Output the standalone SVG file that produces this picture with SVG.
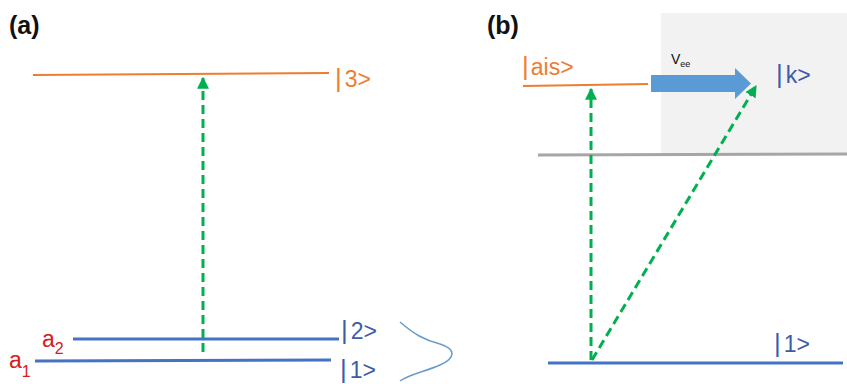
<svg xmlns="http://www.w3.org/2000/svg" width="847" height="384" viewBox="0 0 847 384">
<style>
.lbl{font-family:"Liberation Sans",Arial,sans-serif;font-size:23px}
.bar{font-size:26px}
.panel{font-family:"Liberation Sans",Arial,sans-serif;font-size:25px;font-weight:bold;fill:#111}
.orange{fill:#ED7D31}
.blue{fill:#3C5CA8}
.red{fill:#D42020}
.lvO{stroke:#ED7D31;stroke-width:2;fill:none}
.lvB{stroke:#4472C4;stroke-width:3;fill:none}
.dash{stroke:#00B050;stroke-width:3;stroke-dasharray:9 5;fill:none}
</style>
<defs>
<marker id="gh" viewBox="0 0 10 10" refX="9" refY="5" markerWidth="4" markerHeight="4" orient="auto" markerUnits="strokeWidth">
<path d="M0,0 L10,5 L0,10 z" fill="#00B050"/>
</marker>
</defs>
<rect x="661" y="13" width="186" height="141" fill="#F2F2F2"/>
<text class="panel" x="9" y="34">(a)</text>
<text class="panel" x="487" y="34">(b)</text>
<g id="level3">
<line class="lvO" x1="33" y1="75" x2="329" y2="73"/>
<text class="lbl orange" x="335" y="87"><tspan class="bar">|</tspan><tspan dx="3">3&gt;</tspan></text>
</g>
<g id="level2">
<line class="lvB" x1="73" y1="339" x2="339" y2="339"/>
<text class="lbl blue" x="341" y="339"><tspan class="bar">|</tspan><tspan dx="3">2&gt;</tspan></text>
<text class="lbl red" x="42" y="347">a<tspan font-size="16" dy="7">2</tspan></text>
</g>
<g id="level1">
<line class="lvB" x1="35" y1="361" x2="331" y2="360"/>
<text class="lbl blue" x="340" y="378"><tspan class="bar" font-size="24">|</tspan><tspan dx="3">1&gt;</tspan></text>
<text class="lbl red" x="9" y="368">a<tspan font-size="16" dy="9">1</tspan></text>
</g>
<g id="gaussian">
<path d="M400,322 C414,334 424,340 440,344 C456,349 456,358 440,365 C424,372 410,374 400,381" fill="none" stroke="#6A9BC8" stroke-width="1.5"/>
</g>
<g id="ais">
<line class="lvO" x1="523" y1="86" x2="648" y2="84"/>
<text class="lbl orange" x="522" y="75"><tspan class="bar">|</tspan><tspan dx="2">ais&gt;</tspan></text>
</g>
<g id="continuum">
<line x1="538" y1="155" x2="847" y2="154" stroke="#A6A6A6" stroke-width="3"/>
</g>
<g id="k">
<text class="lbl blue" x="776" y="83"><tspan class="bar">|</tspan><tspan dx="3">k&gt;</tspan></text>
</g>
<g id="ground-b">
<line class="lvB" x1="548" y1="363" x2="843" y2="363"/>
<text class="lbl blue" x="774" y="352"><tspan class="bar">|</tspan><tspan dx="3">1&gt;</tspan></text>
</g>
<g id="vee">
<path d="M651,75 L735,75 L735,68 L751,83.5 L735,99 L735,92 L651,92 z" fill="#5B9BD5"/>
<text x="671" y="64" font-family="'Liberation Sans',Arial,sans-serif" font-size="14" fill="#111">V<tspan font-size="9" dy="3">ee</tspan></text>
</g>
<g id="connectors">
<line class="dash" x1="203" y1="352" x2="203" y2="78" marker-end="url(#gh)"/>
<line class="dash" x1="591" y1="360" x2="591" y2="89" marker-end="url(#gh)"/>
<line class="dash" x1="592" y1="360" x2="756" y2="86" marker-end="url(#gh)"/>
</g>
</svg>
